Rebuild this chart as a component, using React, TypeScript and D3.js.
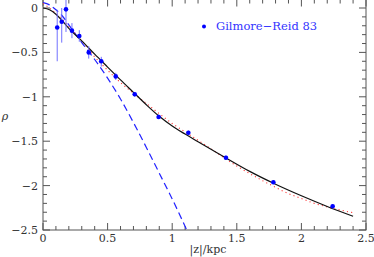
import React from 'react';
import * as d3 from 'd3';

// Gilmore-Reid 83 points: |z| (kpc), rho, error bar low/high
const obsZ = [0.11, 0.145, 0.178, 0.224, 0.281, 0.354, 0.451, 0.563, 0.71, 0.895, 1.125, 1.416, 1.783, 2.242];
const obsRho = [-0.22, -0.155, -0.015, -0.255, -0.315, -0.5, -0.6, -0.77, -0.972, -1.227, -1.404, -1.686, -1.963, -2.233];
const obsLo = [-0.6, -0.39, -0.27, -0.34, -0.38, -0.57, -0.66, -0.81, -1.0, -1.25, -1.43, -1.71, -1.985, -2.255];
const obsHi = [-0.02, 0.0, 0.09, -0.17, -0.25, -0.43, -0.55, -0.73, -0.945, -1.2, -1.38, -1.66, -1.94, -2.21];

// model curves
const solidZ = [0, 0.05, 0.1, 0.15, 0.2, 0.3, 0.4, 0.5, 0.6, 0.7, 0.8, 0.9, 1.0, 1.1, 1.2, 1.3, 1.4, 1.6, 1.8, 2.0, 2.2, 2.4];
const solidRho = [0, -0.02, -0.07, -0.145, -0.23, -0.37, -0.52, -0.665, -0.81, -0.95, -1.09, -1.22, -1.33, -1.42, -1.505, -1.59, -1.675, -1.84, -1.985, -2.115, -2.235, -2.345];

const dotZ = [0, 0.05, 0.1, 0.15, 0.2, 0.3, 0.4, 0.5, 0.6, 0.7, 0.8, 0.9, 1.0, 1.1, 1.2, 1.3, 1.4, 1.5, 1.6, 1.7, 1.8, 1.9, 2.0, 2.1, 2.2, 2.3, 2.4];
const dotRho = [0.05, 0.0, -0.06, -0.13, -0.21, -0.37, -0.55, -0.7, -0.84, -0.96, -1.075, -1.19, -1.3, -1.395, -1.49, -1.585, -1.685, -1.78, -1.865, -1.945, -2.02, -2.09, -2.145, -2.2, -2.24, -2.275, -2.305];

const dashZ = [0, 0.05, 0.1, 0.15, 0.2, 0.3, 0.4, 0.5, 0.6, 0.7, 0.8, 0.9, 1.0, 1.1, 1.15];
const dashRho = [0.06, 0.035, -0.02, -0.09, -0.19, -0.39, -0.58, -0.79, -1.025, -1.29, -1.57, -1.86, -2.15, -2.46, -2.62];

const xTicks = [0, 0.5, 1, 1.5, 2, 2.5];
const yTicks = [0, -0.5, -1, -1.5, -2, -2.5];

const W = 374;
const H = 257;
const font = 'DejaVu Serif';
const axisColor = '#555';

export default function App() {
  const x = d3.scaleLinear().domain([0, 2.5]).range([43, 366]);
  const y = d3.scaleLinear().domain([-2.5, 0]).range([230, 8]);
  const top = -0.5;
  const left = x(0);
  const right = x(2.5);
  const bottom = y(-2.5);

  const line = d3.line<[number, number]>()
    .x(d => x(d[0]))
    .y(d => y(d[1]))
    .curve(d3.curveMonotoneX);

  const zip = (a: number[], b: number[]) => a.map((v, i) => [v, b[i]] as [number, number]);

  const xMinor = d3.range(0, 25.01, 1).map(i => i / 10);
  const yMinor = d3.range(-25, 1, 1).map(i => i / 10);
  const isMajor = (v: number) => Math.abs(v * 2 - Math.round(v * 2)) < 1e-6;

  return (
    <svg width={W} height={H} style={{ position: 'fixed', left: 0, top: 0, background: '#fff' }}>
      <defs>
        <clipPath id="plot">
          <rect x={left} y={0} width={right - left} height={bottom} />
        </clipPath>
      </defs>

      {/* frame */}
      <rect x={left} y={top} width={right - left} height={bottom - top} fill="none" stroke={axisColor} strokeWidth={1} />

      {/* ticks */}
      {xMinor.map((v, i) => {
        const len = isMajor(v) ? 7 : 4;
        return (
          <g key={'xt' + i} stroke={axisColor} strokeWidth={1}>
            <line x1={x(v)} x2={x(v)} y1={bottom} y2={bottom - len} />
            <line x1={x(v)} x2={x(v)} y1={top} y2={top + len} />
          </g>
        );
      })}
      {yMinor.map((v, i) => {
        const len = isMajor(v) ? 7 : 4;
        return (
          <g key={'yt' + i} stroke={axisColor} strokeWidth={1}>
            <line x1={left} x2={left + len} y1={y(v)} y2={y(v)} />
            <line x1={right} x2={right - len} y1={y(v)} y2={y(v)} />
          </g>
        );
      })}

      {/* tick labels */}
      {xTicks.map(v => (
        <text key={'xl' + v} x={x(v)} y={242} textAnchor="middle" fontFamily={font} fontSize={11} fill="#333">
          {v === 0 ? '0' : String(v)}
        </text>
      ))}
      {yTicks.map(v => (
        <text key={'yl' + v} x={38} y={y(v)} dy="0.36em" textAnchor="end" fontFamily={font} fontSize={11} fill="#333">
          {v === 0 ? '0' : '\u2212' + String(Math.abs(v))}
        </text>
      ))}

      <text x={208} y={253} textAnchor="middle" fontFamily={font} fontSize={11} fill="#333">|z|/kpc</text>
      <text x={5} y={120} textAnchor="middle" fontFamily={font} fontSize={11} fontStyle="italic" fill="#333">ρ</text>

      <g clipPath="url(#plot)" fill="none">
        <path d={line(zip(dashZ, dashRho)) || ''} stroke="#2222ff" strokeWidth={1.2} strokeDasharray="7,4" />
        <path d={line(zip(dotZ, dotRho)) || ''} stroke="#ff3333" strokeWidth={1.1} strokeDasharray="1.1,3.2" />
        <path d={line(zip(solidZ, solidRho)) || ''} stroke="#111" strokeWidth={1.2} />

        {obsZ.map((z, i) => (
          <line key={'e' + i} x1={x(z)} x2={x(z)} y1={y(obsLo[i])} y2={y(obsHi[i])} stroke="#7070ff" strokeWidth={1} />
        ))}
        {obsZ.map((z, i) => (
          <circle key={'p' + i} cx={x(z)} cy={y(obsRho[i])} r={2.3} fill="#0000ff" />
        ))}
      </g>

      {/* legend */}
      <circle cx={204} cy={26.5} r={2} fill="#0000ff" />
      <text x={216} y={30} fontFamily={font} fontSize={11.5} fill="#3333ff">{'Gilmore\u2212Reid 83'}</text>
    </svg>
  );
}
